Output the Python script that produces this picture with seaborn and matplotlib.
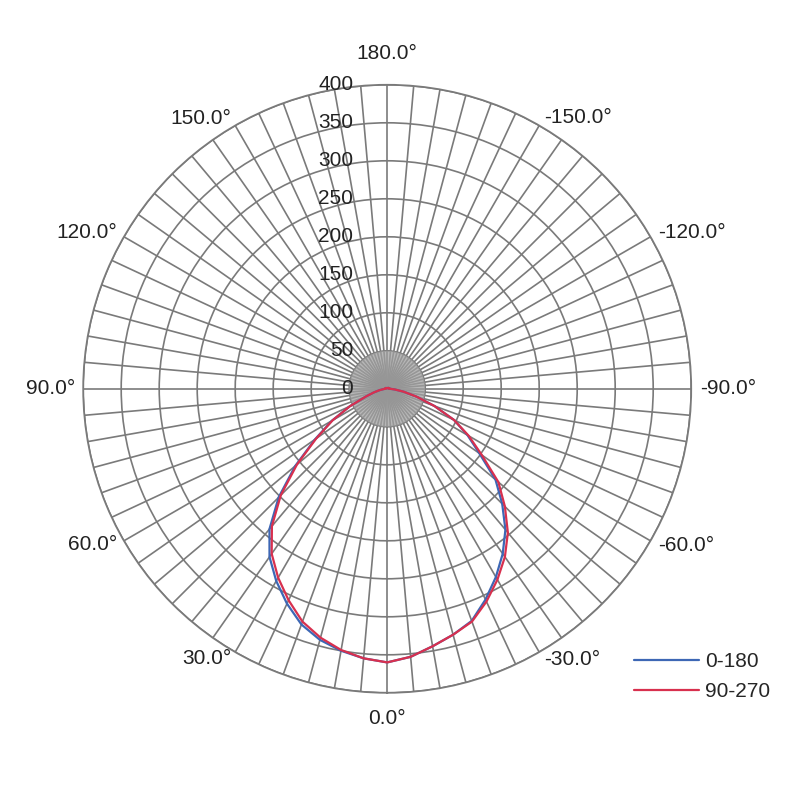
import numpy as np
import pandas as pd
import matplotlib
matplotlib.use("Agg")
import matplotlib.pyplot as plt
import matplotlib.transforms as mtransforms
import seaborn as sns

# angles in degrees (C-plane), -180..180 every 5 degrees
angles = list(range(-180, 185, 5))

# intensity values, one per angle above
red_90_270 = (
    [1, 1, 1, 1, 1, 1, 1, 1, 1, 1, 2, 2, 2, 2, 2, 2, 3, 3]               # -180..-95
    + [4, 10, 22, 40, 66, 97, 124, 152, 191, 219, 247, 270,
       290, 309, 326, 335, 344, 354]                                    # -90..-5
    + [360]                                                             # 0
    + [356, 349, 339, 326, 307, 287, 265, 236, 198, 155, 114, 83,
       54, 30, 18, 10, 5, 3]                                            # 5..90
    + [3, 2, 2, 2, 2, 2, 2, 1, 1, 1, 1, 1, 1, 1, 1, 1, 1, 1]            # 95..180
)
blue_0_180 = (
    [1, 1, 1, 1, 1, 1, 1, 1, 1, 1, 2, 2, 2, 2, 2, 2, 3, 3]
    + [4, 10, 22, 40, 66, 97, 122, 148, 186, 214, 242, 265,
       286, 306, 325, 335, 344, 354]
    + [360]
    + [356, 350, 342, 330, 312, 292, 270, 241, 202, 158, 116, 84,
       54, 30, 18, 10, 5, 3]
    + [3, 2, 2, 2, 2, 2, 2, 1, 1, 1, 1, 1, 1, 1, 1, 1, 1, 1]
)

r_ticks = [0, 50, 100, 150, 200, 250, 300, 350, 400]

df = pd.concat([
    pd.DataFrame({"theta": np.deg2rad(angles), "r": blue_0_180, "series": "0-180"}),
    pd.DataFrame({"theta": np.deg2rad(angles), "r": red_90_270, "series": "90-270"}),
])

sns.set_style("white")
plt.rcParams["font.family"] = ["Liberation Sans", "DejaVu Sans"]

fig = plt.figure(figsize=(8, 8), dpi=100)
ax = fig.add_axes([0.104, 0.134, 0.76, 0.76], projection="polar")
ax.set_theta_zero_location("S")
ax.set_theta_direction(-1)

grid_col = "#7a7a7a"

# the dense spokes make a grey blob round the centre in the original
circ = np.linspace(0, 2 * np.pi, 200)
ax.fill(circ, np.full_like(circ, r_ticks[1]), color="#a0a0a0", alpha=0.75,
        lw=0, zorder=1)

sns.lineplot(data=df, x="theta", y="r", hue="series", sort=False,
             palette={"0-180": "#3d67b5", "90-270": "#d8304e"},
             linewidth=1.6, ax=ax, legend=True, zorder=3)

ax.set_ylim(0, 400)
ax.set_yticks(r_ticks)
ax.set_yticklabels([])

# angular grid every 5 deg, labels every 30 deg
tick_deg = list(range(0, 360, 5))
labels = []
for d in tick_deg:
    if d % 30 == 0:
        v = d if d <= 180 else d - 360
        labels.append(f"{v:.1f}°")
    else:
        labels.append("")
ax.set_xticks(np.deg2rad(tick_deg))
ax.set_xticklabels(labels, fontsize=15, color="#222222")
ax.tick_params(axis="x", length=0)
ax.tick_params(axis="y", length=0)

# Excel-like label anchoring: side labels hug the rim
for d, tick in zip(tick_deg, ax.xaxis.get_major_ticks()):
    if d == 0:
        tick.set_pad(5)
        tick.label1.set_va("top")
    elif d == 180:
        tick.set_pad(9)
        tick.label1.set_va("bottom")
    elif d < 180:
        tick.set_pad(-1.5)
        tick.label1.set_ha("right")
    else:
        tick.set_pad(-0.5)
        tick.label1.set_ha("left")

ax.grid(True, color=grid_col, linewidth=1.2)
ax.spines["polar"].set_color(grid_col)
ax.spines["polar"].set_linewidth(1.3)
ax.set_xlabel("")
ax.set_ylabel("")

# radial labels just left of the vertical axis
offset = mtransforms.ScaledTranslation(-0.34, 0, fig.dpi_scale_trans)
for r in r_ticks:
    ax.text(np.pi, r, str(r), ha="right", va="center", fontsize=15,
            color="#222222", transform=ax.transData + offset, zorder=4)

ax.legend(loc="upper left", bbox_to_anchor=(0.793, 0.185),
          bbox_transform=fig.transFigure, frameon=False, fontsize=15,
          handlelength=3.1, handletextpad=0.3, labelspacing=0.55,
          borderpad=0, borderaxespad=0, title=None)

fig.savefig("out.png", dpi=100, facecolor="white")
